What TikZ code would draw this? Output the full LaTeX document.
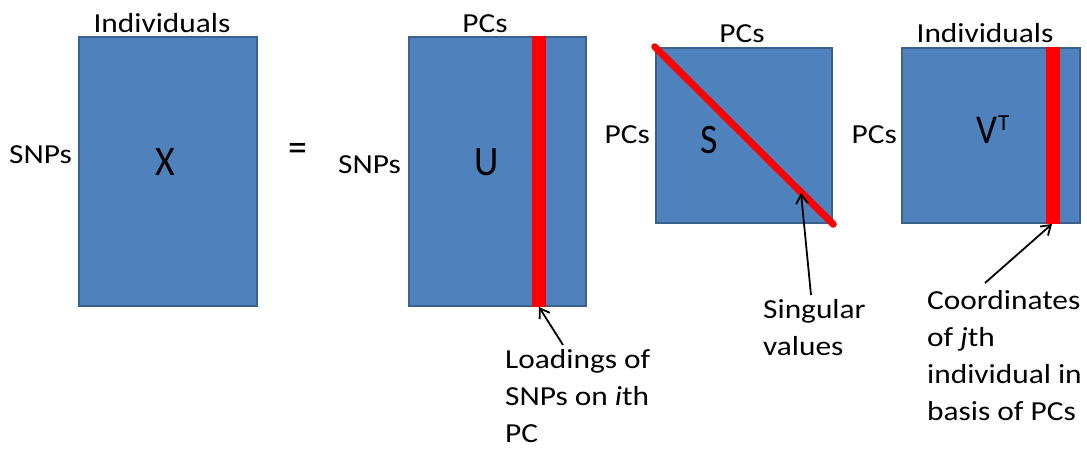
\documentclass[tikz,border=0pt]{standalone}
\usepackage{fontspec}
\setmainfont{Carlito}[FakeStretch=1.14]
\newfontfamily\bigfont{Carlito}[FakeStretch=0.9]
\newfontfamily\plainfont{Carlito}
\usetikzlibrary{arrows.meta}
\definecolor{matfill}{HTML}{4F81BD}
\definecolor{matline}{HTML}{3A6190}
\definecolor{barred}{HTML}{FF0000}
\tikzset{
  mat/.style={draw=matline, fill=matfill, line width=2.5pt, rectangle, inner sep=0pt},
  lbl/.style={inner sep=0pt, font=\fontsize{27.5}{37}\selectfont},
  big/.style={inner sep=0pt, font=\bigfont\fontsize{42}{50}\selectfont},
  note/.style={lbl, align=left, anchor=base west},
  arr/.style={line width=1.8pt, -{Straight Barb[length=9pt,width=12pt,line width=1.8pt]}},
  bar/.style={fill=barred},
}
\begin{document}
\begin{tikzpicture}[x=1pt,y=-1pt]
\useasboundingbox (0,0) rectangle (1087,448);
% matrices
\node[mat, minimum width=178pt, minimum height=269pt] (X) at (168,171.5) {};
\node[mat, minimum width=177pt, minimum height=269pt] (U) at (497.5,171.5) {};
\node[mat, minimum width=176pt, minimum height=175pt] (S) at (744,135.5) {};
\node[mat, minimum width=178pt, minimum height=175pt] (V) at (991,135.5) {};
% red highlights
\fill[bar] (532,36) rectangle (546,307);
\fill[bar] (1046,47) rectangle (1060,224);
\draw[barred, line width=7pt, line cap=round] (S.north west) -- (S.south east);
% letters
\node[big, anchor=base] (xl) at (165,175) {X};
\node[big, anchor=base] (ul) at (487,175) {U};
\node[big, anchor=base] (sl) at (709,153) {S};
\node[big, anchor=base west, font=\bigfont\fontsize{41}{48}\selectfont] (vl) at (976,143) {V};
\node[inner sep=0pt, font=\plainfont\fontsize{23}{28}\selectfont, anchor=base west] (vsup) at (998,130) {T};
\node[big, anchor=center] (eq) at (298,152) {=};
% axis labels
\node[lbl, anchor=base] (xt) at (162,32) {Individuals};
\node[lbl, anchor=base east] (xs) at (72,163) {SNPs};
\node[lbl, anchor=base] (ut) at (485,32) {PCs};
\node[lbl, anchor=base east] (us) at (401,173) {SNPs};
\node[lbl, anchor=base] (st) at (742,42) {PCs};
\node[lbl, anchor=base east] (ss) at (650,143) {PCs};
\node[lbl, anchor=base] (vt) at (985,42) {Individuals};
\node[lbl, anchor=base east] (vs) at (897,143) {PCs};
% notes (base = last line)
\node[note] (nu) at (505,442) {Loadings of\\SNPs on \textit{i}th\\PC};
\node[note] (ns) at (763,355) {Singular\\values};
\node[note] (nv) at (927,420) {Coordinates\\of \textit{j}th\\individual in\\basis of PCs};
% arrows
\coordinate (uTip) at (539,307);
\coordinate (uTail) at (563,345);
\coordinate (sTip) at (801,193);
\coordinate (sTail) at (811,295);
\coordinate (vTip) at (1052,224);
\coordinate (vTail) at (985,283);
\draw[arr] (uTail) -- (uTip);
\draw[arr] (sTail) -- (sTip);
\draw[arr] (vTail) -- (vTip);
\end{tikzpicture}
\end{document}
